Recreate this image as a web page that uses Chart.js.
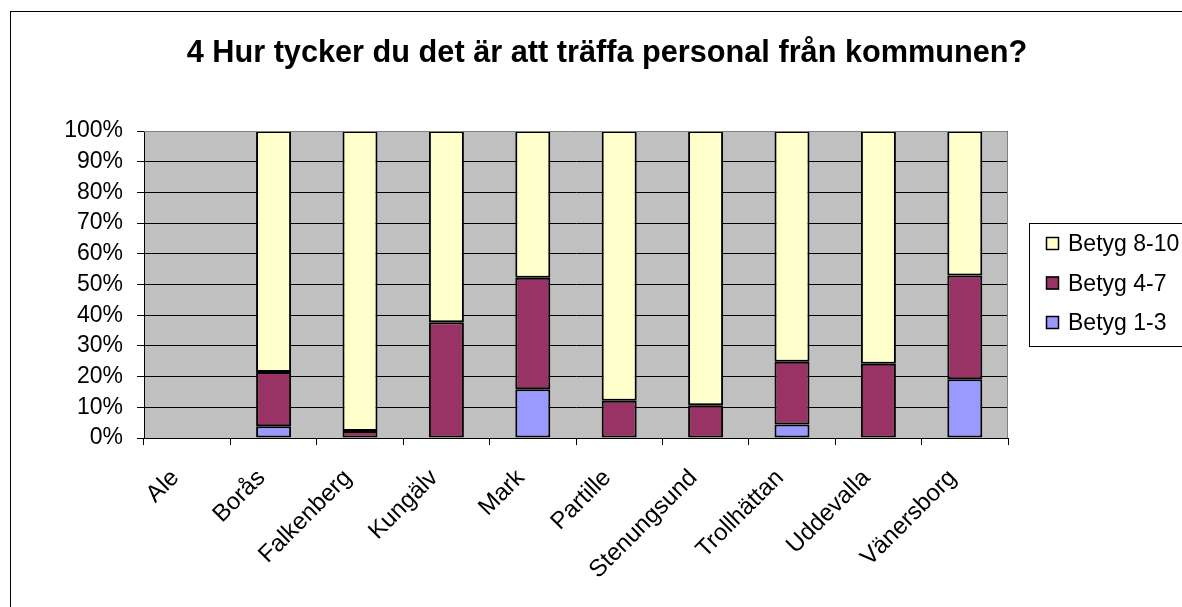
<!DOCTYPE html>
<html>
<head>
<meta charset="utf-8">
<script src="https://cdn.jsdelivr.net/npm/chart.js@4/dist/chart.umd.min.js"></script>
<style>
  html, body { margin: 0; padding: 0; background: #fff; }
  #wrap { width: 1182px; height: 607px; position: relative; }
</style>
</head>
<body>
<div id="wrap"><canvas id="chart"></canvas></div>
<script>
// Data (percent of answers per kommun)
const chartTitle = '4 Hur tycker du det är att träffa personal från kommunen?';
const categories = ['Ale', 'Borås', 'Falkenberg', 'Kungälv', 'Mark', 'Partille', 'Stenungsund', 'Trollhättan', 'Uddevalla', 'Vänersborg'];
const betyg13 = [null, 3.8, null, null, 15.9, null, null, 4.4, null, 19.1];
const betyg47 = [null, 17.7, 2.3, 37.7, 36.3, 12.1, 10.7, 20.4, 24.2, 33.8];
const betyg810 = [null, 78.5, 97.7, 62.3, 47.8, 87.9, 89.3, 75.2, 75.8, 47.1];
const seriesLabels = ['Betyg 1-3', 'Betyg 4-7', 'Betyg 8-10'];
const seriesColors = ['#9999FF', '#993366', '#FFFFCC'];

const FONT = '"Liberation Sans", Arial, sans-serif';

// Background of plot area, frame, title and legend box
const decorPlugin = {
    id: 'decor',
    beforeDraw(chart) {
        const { ctx, chartArea } = chart;
        ctx.save();
        ctx.fillStyle = '#C0C0C0';
        ctx.fillRect(chartArea.left, chartArea.top, chartArea.right - chartArea.left, chartArea.bottom - chartArea.top);
        ctx.restore();
    },
    afterDraw(chart) {
        const { ctx, chartArea } = chart;
        ctx.save();
        // outer frame
        ctx.strokeStyle = '#000';
        ctx.lineWidth = 1;
        ctx.strokeRect(10.5, 11.5, 1300, 700);
        // plot area border (top / right)
        ctx.strokeStyle = '#808080';
        ctx.beginPath();
        ctx.moveTo(chartArea.left, chartArea.top + 0.5);
        ctx.lineTo(chartArea.right - 0.5, chartArea.top + 0.5);
        ctx.lineTo(chartArea.right - 0.5, chartArea.bottom);
        ctx.stroke();
        // title
        ctx.fillStyle = '#000';
        ctx.font = 'bold 30.7px ' + FONT;
        ctx.textAlign = 'center';
        ctx.textBaseline = 'alphabetic';
        ctx.fillText(chartTitle, 607, 62);
        // legend (reverse order, 8-10 on top)
        ctx.strokeStyle = '#000';
        ctx.strokeRect(1029.5, 223.5, 200, 123);
        ctx.font = '23px ' + FONT;
        ctx.textAlign = 'left';
        ctx.textBaseline = 'middle';
        const ds = chart.data.datasets.slice().reverse();
        ds.forEach((d, i) => {
            const y = 244 + i * 39.5;
            ctx.fillStyle = d.backgroundColor;
            ctx.fillRect(1046, y - 7, 13, 13);
            ctx.strokeStyle = '#000';
            ctx.lineWidth = 1.5;
            ctx.strokeRect(1046.5, y - 6.5, 12, 12);
            ctx.fillStyle = '#000';
            ctx.fillText(d.label, 1068, y + 1);
        });
        ctx.restore();
    }
};

const seriesData = [betyg13, betyg47, betyg810];
const datasets = seriesData.map((vals, i) => ({
    label: seriesLabels[i],
    data: vals,
    backgroundColor: seriesColors[i],
    borderColor: '#000',
    borderWidth: 2,
    borderSkipped: false,
    barPercentage: 0.405,
    categoryPercentage: 1.0
}));

const ctx = document.getElementById('chart').getContext('2d');
new Chart(ctx, {
    type: 'bar',
    data: { labels: categories, datasets: datasets },
    options: {
        responsive: true,
        maintainAspectRatio: false,
        animation: false,
        layout: { padding: { top: 131, right: 174, left: 0, bottom: 0 } },
        plugins: {
            legend: { display: false },
            title: { display: false },
            tooltip: { enabled: false }
        },
        scales: {
            x: {
                stacked: true,
                offset: true,
                grid: { drawOnChartArea: false, color: '#000', tickLength: 7, offset: true },
                border: { color: '#000', width: 1 },
                ticks: {
                    color: '#000',
                    font: { family: FONT, size: 24 },
                    minRotation: 45,
                    maxRotation: 45,
                    padding: 19,
                    labelOffset: -12,
                    autoSkip: false
                },
                afterFit(scale) { scale.height = 169; }
            },
            y: {
                stacked: true,
                min: 0,
                max: 100,
                grid: { color: '#000', lineWidth: 1, tickLength: 7 },
                border: { color: '#000', width: 1 },
                ticks: {
                    stepSize: 10,
                    color: '#000',
                    padding: 14,
                    font: { family: FONT, size: 23 },
                    callback: v => v + '%'
                },
                afterFit(scale) { scale.width = 144; }
            }
        }
    },
    plugins: [decorPlugin]
});
</script>
</body>
</html>
